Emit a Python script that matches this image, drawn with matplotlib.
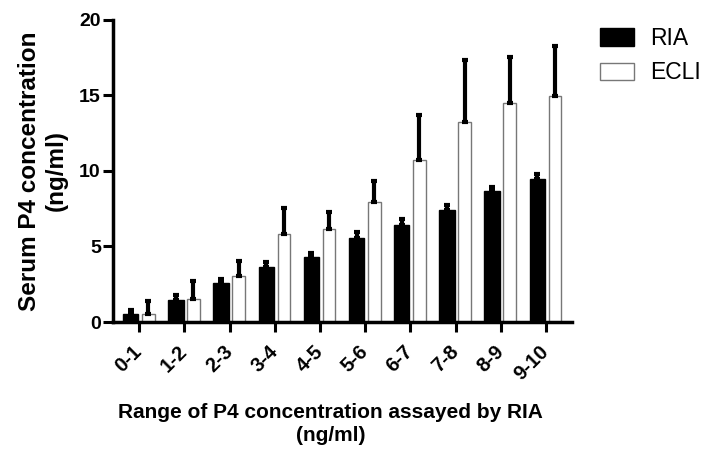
import matplotlib.pyplot as plt
import matplotlib.transforms as mtransforms
import numpy as np

# data
ranges = ["0-1", "1-2", "2-3", "3-4", "4-5", "5-6", "6-7", "7-8", "8-9", "9-10"]
ria = [0.53, 1.48, 2.56, 3.62, 4.28, 5.56, 6.44, 7.43, 8.64, 9.46]
ria_err = [0.29, 0.28, 0.28, 0.35, 0.28, 0.39, 0.37, 0.29, 0.31, 0.31]
ecli = [0.55, 1.54, 3.07, 5.84, 6.15, 7.92, 10.74, 13.27, 14.49, 14.97]
ecli_err = [0.82, 1.15, 0.94, 1.70, 1.13, 1.39, 2.93, 4.04, 3.08, 3.33]

plt.rcParams["font.family"] = ["Liberation Sans", "DejaVu Sans"]

fig = plt.figure(figsize=(7.08, 4.51), dpi=100)
ax = fig.add_axes([0.16, 0.286, 0.648, 0.67])

x = np.arange(len(ranges))
err_kw = dict(ecolor="black", elinewidth=3, capsize=2, capthick=3)

ax.bar(x - 0.19, ria, width=0.34, color="black", edgecolor="black",
       yerr=[np.zeros(len(ria)), ria_err], error_kw=err_kw, label="RIA", zorder=2)
ax.bar(x + 0.2, ecli, width=0.28, color="white", edgecolor="#777777", linewidth=1,
       yerr=[np.zeros(len(ecli)), ecli_err], error_kw=err_kw, label="ECLI", zorder=2)

ax.set_xlim(-0.575, 9.58)
ax.set_ylim(0, 20)
ax.set_yticks([0, 5, 10, 15, 20])
ax.set_xticks(x)
ax.set_xticklabels(ranges, rotation=45, ha="right", va="center",
                   rotation_mode="anchor", fontsize=14.5, fontweight="bold")
# nudge rotated labels a little to the right
shift = mtransforms.ScaledTranslation(4 / 100, 0, fig.dpi_scale_trans)
for lab in ax.get_xticklabels():
    lab.set_transform(lab.get_transform() + shift)
for lab in ax.get_yticklabels():
    lab.set_fontsize(14)
    lab.set_fontweight("bold")

for s in ["top", "right"]:
    ax.spines[s].set_visible(False)
for s in ["left", "bottom"]:
    ax.spines[s].set_linewidth(2.5)
ax.tick_params(axis="both", width=2.2, length=7, direction="out", pad=2)
ax.tick_params(axis="x", pad=12)

ax.set_ylabel("Serum P4 concentration\n(ng/ml)", fontsize=17.5, fontweight="bold",
              labelpad=8)
ax.set_xlabel("Range of P4 concentration assayed by RIA\n(ng/ml)", fontsize=15,
              fontweight="bold", linespacing=1.3)
ax.xaxis.set_label_coords(0.473, -0.268)
ax.xaxis.label.set_va("top")

leg = ax.legend(loc="upper left", bbox_to_anchor=(1.015, 1.045), frameon=False,
                fontsize=16.5, handlelength=1.5, handleheight=0.8, handletextpad=0.7,
                labelspacing=0.5)

fig.savefig("out.png", dpi=100)
